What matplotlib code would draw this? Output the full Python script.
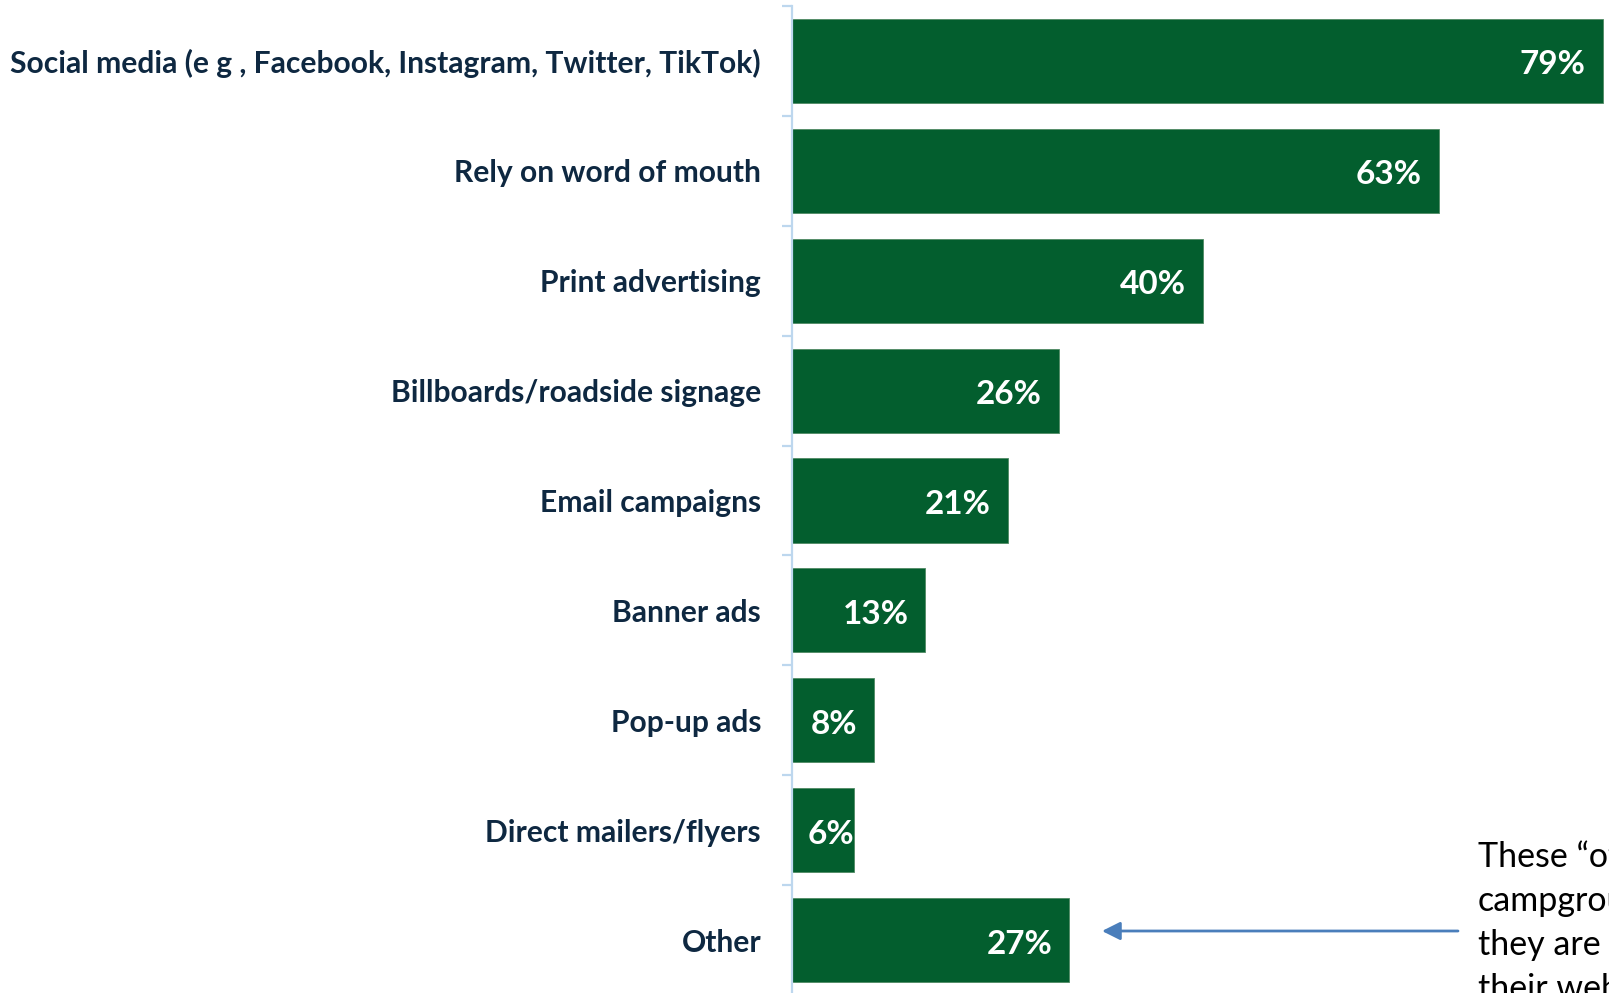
import matplotlib
matplotlib.use("Agg")
import matplotlib.pyplot as plt

# Marketing channels and share of respondents using each (%)
categories = [
    "Social media (e g , Facebook, Instagram, Twitter, TikTok)",
    "Rely on word of mouth",
    "Print advertising",
    "Billboards/roadside signage",
    "Email campaigns",
    "Banner ads",
    "Pop-up ads",
    "Direct mailers/flyers",
    "Other",
]
values = [79, 63, 40, 26, 21, 13, 8, 6, 27]
value_labels = [f"{v}%" for v in values]

note_lines = ["These \u201cother\u201d", "campgrounds", "they are", "their website"]

BAR_COLOR = "#035E2E"
LABEL_COLOR = "#0E2841"
AXIS_COLOR = "#BDD7EE"
ARROW_COLOR = "#4A7EBB"

W, H = 1609, 993
fig = plt.figure(figsize=(W / 100, H / 100), dpi=100)
ax = fig.add_axes([792 / W, -2 / H, 1 - 792 / W, (H - 6 + 2) / H])

ypos = list(range(len(categories)))
ax.barh(ypos, values, height=0.765, color=BAR_COLOR,
        edgecolor="#4F8A63", linewidth=0.6)
ax.set_xlim(0, 79.6)
ax.set_ylim(len(categories) - 0.5, -0.5)

for s in ("top", "right", "bottom"):
    ax.spines[s].set_visible(False)
ax.spines["left"].set_color(AXIS_COLOR)
ax.spines["left"].set_linewidth(1.6)
ax.set_xticks([])

# tick marks on category boundaries, labels at centres
ax.set_yticks([i - 0.5 for i in range(len(categories) + 1)])
ax.set_yticklabels([])
ax.tick_params(axis="y", which="major", length=7.2, width=1.6,
               color=AXIS_COLOR, direction="out")
ax.set_yticks(ypos, minor=True)
ax.set_yticklabels(categories, minor=True, fontsize=21.6,
                   fontweight="bold", color=LABEL_COLOR, family="Lato")
ax.tick_params(axis="y", which="minor", length=0, pad=22.3)

# value labels inside bar ends
fig.canvas.draw()
renderer = fig.canvas.get_renderer()
px_x = ax.transData.transform((1, 0))[0] - ax.transData.transform((0, 0))[0]
px_y = abs(ax.transData.transform((0, 1))[1] - ax.transData.transform((0, 0))[1])
for y, v, lab in zip(ypos, values, value_labels):
    t = ax.text(v - 17 / px_x, y + 4 / px_y, lab, ha="right", va="center",
                color="white", fontsize=24, fontweight="bold", family="Lato")
    w = t.get_window_extent(renderer).width / px_x
    if v - 17 / px_x - w < 16 / px_x:
        t.set_ha("left")
        t.set_x(16 / px_x)

# annotation for the "Other" bar
ax.annotate("", xy=(1102 / W, 1 - 931 / H), xycoords="figure fraction",
            xytext=(1458 / W, 1 - 931 / H), textcoords="figure fraction",
            arrowprops=dict(arrowstyle="-|>,head_length=1.1,head_width=0.55",
                            color=ARROW_COLOR, lw=2.0, shrinkA=0, shrinkB=0))
for i, line in enumerate(note_lines):
    fig.text(1478 / W, 1 - (867 + 44 * i) / H, line, ha="left",
             va="baseline", fontsize=24.5, color="black", family="Lato")

fig.savefig("out.png", dpi=100)
